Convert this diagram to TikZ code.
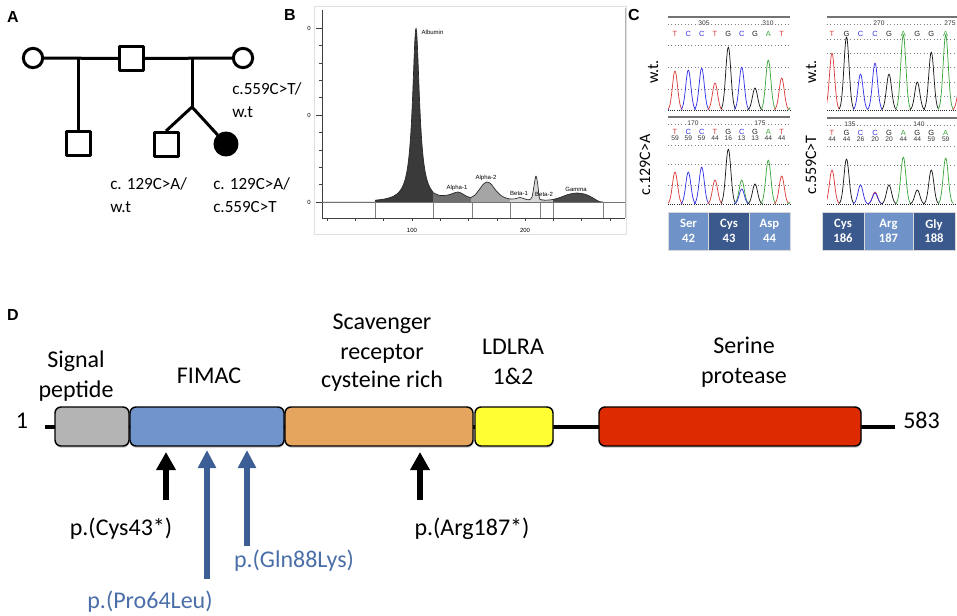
\documentclass[tikz,border=0pt]{standalone}
\usepackage{fontspec}
\setmainfont{Carlito}
\newfontfamily\arialf{Liberation Sans}
\usetikzlibrary{arrows.meta,shadows}
\definecolor{sigGray}{RGB}{180,180,180}
\definecolor{fimacBlue}{RGB}{112,148,204}
\definecolor{scavOrange}{RGB}{230,165,95}
\definecolor{ldlYellow}{RGB}{255,255,51}
\definecolor{serRed}{RGB}{222,42,0}
\definecolor{arrBlue}{RGB}{61,94,148}
\definecolor{txtBlue}{RGB}{74,111,168}
\definecolor{cellLight}{RGB}{111,147,201}
\definecolor{cellDark}{RGB}{59,89,141}
\definecolor{tred}{RGB}{220,60,60}
\definecolor{tblue}{RGB}{50,50,230}
\definecolor{tgreen}{RGB}{60,165,60}
\definecolor{tblack}{RGB}{25,25,25}
\definecolor{albCol}{RGB}{58,58,58}
\definecolor{aoneCol}{RGB}{110,110,110}
\definecolor{atwoCol}{RGB}{165,165,165}
\definecolor{bone}{RGB}{215,215,215}
\definecolor{btwo}{RGB}{190,190,190}
\definecolor{gamCol}{RGB}{74,74,74}
\newcommand\cpk[4]{\draw[#4, line width=0.55pt] plot[domain=-7.5:7.5, samples=25, smooth] ({#1+\x},{#2-(#2-#3)*exp(-(\x*\x)/13)});}
\begin{document}
\begin{tikzpicture}[x=0.75pt,y=-0.75pt,line join=round]
\useasboundingbox (0,0) rectangle (957,615);
\tikzset{
  panlab/.style={font=\arialf\bfseries\fontsize{12}{14}\selectfont, inner sep=0pt},
  ped/.style={draw, line width=2.25pt, inner sep=0pt},
  pedline/.style={line width=2.25pt},
  atext/.style={font=\fontsize{12.8}{17}\selectfont, inner sep=0pt, anchor=base west},
  tiny/.style={font=\arialf\fontsize{4.5}{5}\selectfont, inner sep=0.3pt},
  axisl/.style={line width=0.4pt, draw=black!75},
  baselab/.style={font=\arialf\fontsize{5.6}{6}\selectfont, inner sep=0pt},
  numlab/.style={font=\arialf\fontsize{5}{6}\selectfont, inner sep=0.4pt, text=black!80},
  topl/.style={line width=1.2pt, draw=black!55},
  dotl/.style={line width=0.5pt, draw=black!50, dotted},
  basel/.style={line width=0.6pt, draw=black!85, densely dotted},
  cell/.style={minimum width=30.75pt, minimum height=28.5pt, inner sep=0pt, text=white, align=center, font=\bfseries\fontsize{9.5}{11}\selectfont, draw=white!85!black, line width=0.4pt},
  rotlab/.style={rotate=90, font=\fontsize{12}{14}\selectfont, inner sep=0pt},
  dombox/.style={draw, line width=1.1pt, rounded corners=4.5pt, minimum height=29.25pt, inner sep=0pt, drop shadow={shadow xshift=0.4pt, shadow yshift=-1.4pt, opacity=0.35}},
  dlab/.style={font=\fontsize{18}{22}\selectfont, inner sep=0pt, anchor=base},
  blackarr/.style={line width=4.5pt, -{Triangle[width=14pt,length=13.5pt]}},
  bluearr/.style={line width=4pt, arrBlue, -{Triangle[width=13pt,length=13.5pt]}}
}
% ---------- panel letters
\node[panlab] (labA) at (13,17) {A};
\node[panlab] (labB) at (290,15) {B};
\node[panlab] (labC) at (634,15) {C};
\node[panlab] (labD) at (13,315) {D};
% ---------- panel A: pedigree
\node[ped, circle, minimum size=14.5pt] (gm) at (33,58) {};
\node[ped, rectangle, minimum size=18pt] (gf) at (131.5,58.5) {};
\node[ped, circle, minimum size=14.5pt] (mo) at (243,58) {};
\node[ped, rectangle, minimum size=18pt] (hs) at (78.5,143.5) {};
\node[ped, rectangle, minimum size=18pt] (br) at (166,144.5) {};
\node[ped, circle, fill=black, minimum size=16.5pt] (pr) at (226,144) {};
\coordinate (j1) at (78.5,58);
\coordinate (j2) at (192,58);
\coordinate (split) at (192,107);
\draw[pedline] (gm) -- (gf);
\draw[pedline] (gf) -- (mo);
\draw[pedline] (j1) -- (hs.north);
\draw[pedline] (j2) -- (split);
\draw[pedline] (split) -- (br.north);
\draw[pedline] (split) -- (pr);
\node[atext] (moa) at (232,94) {c.559C>T/};
\node[atext] (mob) at (232,117) {w.t};
\node[atext] (bra) at (110,189) {c. 129C>A/};
\node[atext] (brb) at (110,212) {w.t};
\node[atext] (pra) at (213,189) {c. 129C>A/};
\node[atext] (prb) at (213,212) {c.559C>T};
% ---------- panel B: electrophoresis
\draw[black!12, line width=0.5pt] (314,6) rectangle (626,234);
\fill[albCol] (375,202) -- plot[domain=375:433, samples=90] (\x,{202-174/(1+((\x-416)/4.2)^2)}) -- (433,202) -- cycle;
\fill[aoneCol] (433,202) -- plot[smooth] coordinates {(433,192.5) (440,195.5) (448,195) (454,193) (458,192) (462,193.5) (467,196.5) (471,197.5)} -- (471,202) -- cycle;
\fill[atwoCol] (471,202) -- plot[smooth] coordinates {(471,197.5) (475,195) (479,190) (483,184.5) (487,182) (491,184) (496,190.5) (501,195.5) (506,198) (510,199)} -- (510,202) -- cycle;
\fill[bone] (510,202) -- plot[smooth] coordinates {(510,199) (515,198.8) (520,197.5) (525,199) (529,199.8) (532,197) (534.3,184) (536,176) (537.7,184) (539,196) (540,199.5)} -- (540,202) -- cycle;
\fill[btwo] (540,202) -- plot[smooth] coordinates {(540,199.5) (545,200.2) (549,200) (553,199.5)} -- (553,202) -- cycle;
\fill[gamCol] (553,202) -- plot[smooth] coordinates {(553,199.5) (560,197.5) (568,194.5) (577,193) (586,194.5) (593,198) (599,201.5) (603,202)} -- cycle;
\draw[black!85, line width=0.5pt] (322,202.3) -- (375,202.2) plot[domain=375:433, samples=90] (\x,{202-174/(1+((\x-416)/4.2)^2)});
\draw[black!85, line width=0.5pt] plot[smooth] coordinates {(433,192.5) (440,195.5) (448,195) (454,193) (458,192) (462,193.5) (467,196.5) (471,197.5)};
\draw[black!85, line width=0.5pt] plot[smooth] coordinates {(471,197.5) (475,195) (479,190) (483,184.5) (487,182) (491,184) (496,190.5) (501,195.5) (506,198) (510,199)};
\draw[black!85, line width=0.5pt] plot[smooth] coordinates {(510,199) (515,198.8) (520,197.5) (525,199) (529,199.8) (532,197) (534.3,184) (536,176) (537.7,184) (539,196) (540,199.5)};
\draw[black!85, line width=0.5pt] plot[smooth] coordinates {(540,199.5) (545,200.2) (549,200) (553,199.5)};
\draw[black!85, line width=0.5pt] plot[smooth] coordinates {(553,199.5) (560,197.5) (568,194.5) (577,193) (586,194.5) (593,198) (599,201.5) (603,202)};
\draw[axisl] (322,10) -- (322,218) -- (625,218);
\draw[axisl, draw=black!55] (322,202) -- (625,202);
\draw[black!30, line width=0.5pt] (625,8) -- (625,218);
\foreach \yy in {28,115,202} {\draw[axisl] (316,\yy) -- (322,\yy);}
\foreach \yy in {45.4,62.8,80.2,97.6,132.4,149.8,167.2,184.6} {\draw[axisl] (319,\yy) -- (322,\yy);}
\foreach \k in {0,...,10} {\draw[axisl] ({327+28.3*\k},218) -- ({327+28.3*\k},221);}
\foreach \xx in {375,433,472,510,540,553,603} {\draw[black!50, line width=0.4pt] (\xx,202) -- (\xx,218);}
\node[tiny] (y0a) at (309,28) {0};
\node[tiny] (y0b) at (309,115) {0};
\node[tiny] (y0c) at (309,202) {0};
\node[tiny] (x100) at (412,230) {100};
\node[tiny] (x200) at (525,230) {200};
\node[tiny, anchor=west] (alb) at (421,32) {Albumin};
\node[tiny] (a1l) at (457,188) {Alpha-1};
\node[tiny] (a2l) at (486,178) {Alpha-2};
\node[tiny] (b1l) at (519,193) {Beta-1};
\node[tiny] (b2l) at (544,194.5) {Beta-2};
\node[tiny] (gl) at (576,189) {Gamma};
% ---------- panel C: chromatograms
% left top
\draw[topl] (668,17) -- (790,17);
\draw[dotl] (668,24) -- (790,24);
\foreach \yy in {45,67,89} {\draw[dotl] (668,\yy) -- (790,\yy);}
\draw[basel] (668,110) -- (790,110);
\node[numlab, fill=white] (n305) at (704,23.5) {305};
\node[numlab, fill=white] (n310) at (768,23.5) {310};
\foreach \xx/\bb/\cc [count=\i] in {675/T/tred,688.3/C/tblue,701.7/C/tblue,715/T/tred,728.3/G/tblack,741.7/C/tblue,755/G/tblack,768.3/A/tgreen,781.7/T/tred}
  {\node[baselab, text=\cc] (ltb\i) at (\xx,34) {\bb};}
\begin{scope}
\clip (668,16) rectangle (790,111);
\foreach \xx/\pp/\cc in {675/71/tred,688.3/70/tblue,701.7/68/tblue,715/83/tred,728.3/47/tblack,741.7/67/tblue,755/88/tblack,768.3/60/tgreen,781.7/78/tred,795/95/tgreen,661.7/100/tblue}
  {\cpk{\xx}{110}{\pp}{\cc}}
\end{scope}
\node[rotlab] (wtl) at (653,72) {w.t.};
% left bottom
\draw[topl] (668,117) -- (790,117);
\draw[dotl] (668,124) -- (790,124);
\foreach \yy in {145,164,185} {\draw[dotl] (668,\yy) -- (790,\yy);}
\draw[basel] (668,204) -- (790,204);
\node[numlab, fill=white] (n170) at (693,123.5) {170};
\node[numlab, fill=white] (n175) at (760,123.5) {175};
\foreach \xx/\bb/\cc/\nn [count=\i] in {675/T/tred/59,688.3/C/tblue/59,701.7/C/tblue/59,715/T/tred/44,728.3/G/tblack/16,741.7/C/tblue/13,755/G/tblack/13,768.3/A/tgreen/44,781.7/T/tred/44}
  {\node[baselab, text=\cc] (lbb\i) at (\xx,131.5) {\bb};
   \node[numlab] (lbn\i) at (\xx,138) {\nn};}
\begin{scope}
\clip (668,116) rectangle (790,205);
\foreach \xx/\pp/\cc in {675/172/tred,688.3/172/tblue,701.7/167/tblue,715/180/tred,728.3/149/tblack,741.7/180/tgreen,741.7/189/tblue,755/184/tblack,768.3/160/tgreen,781.7/176/tred,795/192/tgreen}
  {\cpk{\xx}{204}{\pp}{\cc}}
\end{scope}
\node[rotlab] (mutl) at (645,165) {c.129C>A};
% left table
\node[cell, fill=cellLight] (c42) at (688.5,231) {Ser\\42};
\node[cell, fill=cellDark] (c43) at (729,231) {Cys\\43};
\node[cell, fill=cellLight] (c44) at (769.5,231) {Asp\\44};
% right top
\draw[topl] (827,17) -- (957,17);
\draw[dotl] (827,24) -- (957,24);
\foreach \yy in {39,53,67,82,96} {\draw[dotl] (827,\yy) -- (957,\yy);}
\draw[basel] (827,110) -- (957,110);
\node[numlab, fill=white] (n270) at (879,23.5) {270};
\node[numlab, fill=white] (n275) at (950,23.5) {275};
\foreach \xx/\bb/\cc [count=\i] in {832/T/tred,846.5/G/tblack,860.5/C/tblue,875/C/tblue,889/G/tblack,903.3/A/tgreen,917.3/G/tblack,931.3/G/tblack,945.7/A/tgreen}
  {\node[baselab, text=\cc] (rtb\i) at (\xx,34) {\bb};}
\begin{scope}
\clip (827,16) rectangle (957,111);
\foreach \xx/\pp/\cc in {832/53/tred,846.5/37/tblack,860.5/74/tblue,875/63/tblue,889/74/tblack,903.3/35/tgreen,917.3/82/tblack,931.3/52/tblack,945.7/35/tgreen,960/85/tred}
  {\cpk{\xx}{110}{\pp}{\cc}}
\end{scope}
\node[rotlab] (wtr) at (811,72) {w.t.};
% right bottom
\draw[topl] (827,118) -- (957,118);
\draw[dotl] (827,125) -- (957,125);
\foreach \yy in {146,165,184} {\draw[dotl] (827,\yy) -- (957,\yy);}
\draw[basel] (827,204) -- (957,204);
\node[numlab, fill=white] (n135) at (850,124.5) {135};
\node[numlab, fill=white] (n140) at (919,124.5) {140};
\foreach \xx/\bb/\cc/\nn [count=\i] in {832/T/tred/44,846.5/G/tblack/44,860.5/C/tblue/26,875/C/tblue/20,889/G/tblack/20,903.3/A/tgreen/44,917.3/G/tblack/44,931.3/G/tblack/59,945.7/A/tgreen/59}
  {\node[baselab, text=\cc] (rbb\i) at (\xx,132.5) {\bb};
   \node[numlab] (rbn\i) at (\xx,139) {\nn};}
\begin{scope}
\clip (827,117) rectangle (957,205);
\foreach \xx/\pp/\cc in {832/170/tred,846.5/159/tblack,860.5/185/tblue,875/192/tred,875/193/tblue,889/185/tblack,903.3/157/tgreen,917.3/190/tblack,931.3/170/tblack,945.7/158/tgreen}
  {\cpk{\xx}{204}{\pp}{\cc}}
\end{scope}
\node[rotlab] (mutr) at (811,165) {c.559C>T};
% right table
\node[cell, fill=cellDark, minimum width=31.5pt] (c186) at (843,231) {Cys\\186};
\node[cell, fill=cellLight, minimum width=36.75pt] (c187) at (888.5,231) {Arg\\187};
\node[cell, fill=cellDark, minimum width=31.5pt] (c188) at (934,231) {Gly\\188};
% ---------- panel D: protein domains
\coordinate (lstart) at (45,427);
\coordinate (lend) at (895,427);
\draw[line width=3pt] (lstart) -- (lend);
\node[dombox, fill=sigGray, minimum width=55.5pt] (sig) at (92,426.5) {};
\node[dombox, fill=fimacBlue, minimum width=115.5pt] (fim) at (207,426.5) {};
\node[dombox, fill=scavOrange, minimum width=141pt] (scv) at (379,426.5) {};
\node[dombox, fill=ldlYellow, minimum width=58.5pt] (ldl) at (514,426.5) {};
\node[dombox, fill=serRed, minimum width=196.5pt] (ser) at (730,426.5) {};
\node[dlab] (one) at (22,428) {1};
\node[dlab, anchor=base west] (end) at (903,428) {583};
\node[dlab] (siga) at (76,367) {Signal};
\node[dlab] (sigb) at (76,397) {peptide};
\node[dlab] (fiml) at (209,383) {FIMAC};
\node[dlab] (scva) at (382,329) {Scavenger};
\node[dlab] (scvb) at (382,359) {receptor};
\node[dlab] (scvc) at (382,387) {cysteine rich};
\node[dlab] (ldla) at (513,354) {LDLRA};
\node[dlab] (ldlb) at (513,384) {1\&2};
\node[dlab] (sera) at (744,353) {Serine};
\node[dlab] (serb) at (744,383) {protease};
\coordinate (m1s) at (166,500); \coordinate (m1e) at (166,452);
\coordinate (m2s) at (207,579); \coordinate (m2e) at (207,450);
\coordinate (m3s) at (247,546); \coordinate (m3e) at (247,450);
\coordinate (m4s) at (420,500); \coordinate (m4e) at (420,452);
\draw[blackarr] (m1s) -- (m1e);
\draw[bluearr] (m2s) -- (m2e);
\draw[bluearr] (m3s) -- (m3e);
\draw[blackarr] (m4s) -- (m4e);
\node[dlab] (p1) at (121,535) {p.(Cys43*)};
\node[dlab, text=txtBlue] (p2) at (294,567) {p.(Gln88Lys)};
\node[dlab, text=txtBlue] (p3) at (150,608) {p.(Pro64Leu)};
\node[dlab] (p4) at (472,535) {p.(Arg187*)};
\end{tikzpicture}
\end{document}
